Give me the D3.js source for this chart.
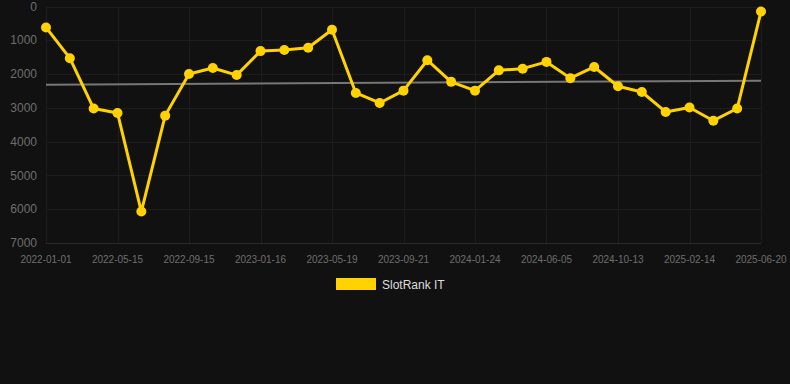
<!DOCTYPE html>
<html lang="en">
<head>
<meta charset="utf-8">
<title>SlotRank IT</title>
<script src="https://d3js.org/d3.v7.min.js"></script>
<style>
  body { margin: 0; background: #111111; }
  svg { display: block; font-family: "Liberation Sans", Arial, sans-serif; }
  .tick-label { fill: #6e6e6e; }
  .legend-text { fill: #dddddd; font-size: 12px; }
</style>
</head>
<body>
<svg width="790" height="384"></svg>
<script>
// ranks (lower is better), one per period
var ranks = [620, 1530, 3020, 3150, 6070, 3230, 2000, 1820, 2030, 1320, 1290, 1220, 690,
             2560, 2855, 2490, 1590, 2230, 2490, 1890, 1840, 1640, 2120, 1790, 2360, 2530,
             3120, 2990, 3380, 3020, 150];
// labelled every third period
var xLabels = ["2022-01-01", "2022-05-15", "2022-09-15", "2023-01-16", "2023-05-19", "2023-09-21",
               "2024-01-24", "2024-06-05", "2024-10-13", "2025-02-14", "2025-06-20"];
var yTicks = [0, 1000, 2000, 3000, 4000, 5000, 6000, 7000];
var trend = [2315, 2195]; // trend line start / end
var seriesName = "SlotRank IT";

var svg = d3.select("svg");
var margin = {top: 6.5, left: 46, right: 29};
var width = 790 - margin.left - margin.right;
var plotH = 243 - margin.top;

var x = d3.scaleLinear().domain([0, ranks.length - 1]).range([margin.left, margin.left + width]);
var y = d3.scaleLinear().domain([0, 7000]).range([margin.top, margin.top + plotH]);

var grid = svg.append("g").attr("stroke-width", 1);
grid.selectAll(".h").data(yTicks).join("line")
    .attr("stroke", d => d === 7000 ? "#2a2a2a" : "#1d1d1d")
    .attr("x1", x(0)).attr("x2", x(ranks.length - 1))
    .attr("y1", d => Math.round(y(d)) + 0.5).attr("y2", d => Math.round(y(d)) + 0.5);
var labelIdx = xLabels.map((d, i) => i * 3);
grid.selectAll(".v").data(labelIdx).join("line")
    .attr("stroke", "#1d1d1d")
    .attr("x1", d => Math.round(x(d)) + 0.5).attr("x2", d => Math.round(x(d)) + 0.5)
    .attr("y1", margin.top).attr("y2", y(7000));

svg.append("g").selectAll("text").data(yTicks).join("text")
    .attr("class", "tick-label")
    .style("font-size", "12px")
    .attr("x", 37).attr("y", d => y(d))
    .attr("dy", "0.35em").attr("text-anchor", "end")
    .text(d => d);

svg.append("g").selectAll("text").data(xLabels).join("text")
    .attr("class", "tick-label")
    .style("font-size", "10px")
    .attr("x", (d, i) => x(i * 3)).attr("y", 259)
    .attr("dy", "0.35em").attr("text-anchor", "middle")
    .text(d => d);

svg.append("line")
    .attr("x1", x(0)).attr("x2", x(ranks.length - 1))
    .attr("y1", y(trend[0])).attr("y2", y(trend[1]))
    .attr("stroke", "#777777").attr("stroke-width", 2);

var line = d3.line().x((d, i) => x(i)).y(d => y(d));
svg.append("path").datum(ranks)
    .attr("fill", "none").attr("stroke", "#ffd200")
    .attr("stroke-width", 3).attr("stroke-linejoin", "round")
    .attr("d", line);

svg.append("g").selectAll("circle").data(ranks).join("circle")
    .attr("cx", (d, i) => x(i)).attr("cy", d => y(d))
    .attr("r", 5).attr("fill", "#ffd200");

var legend = svg.append("g");
legend.append("rect").attr("x", 336).attr("y", 278).attr("width", 40).attr("height", 12)
    .attr("fill", "#ffd200");
legend.append("text").attr("class", "legend-text")
    .attr("x", 382).attr("y", 284.5).attr("dy", "0.35em")
    .text(seriesName);
</script>
</body>
</html>
